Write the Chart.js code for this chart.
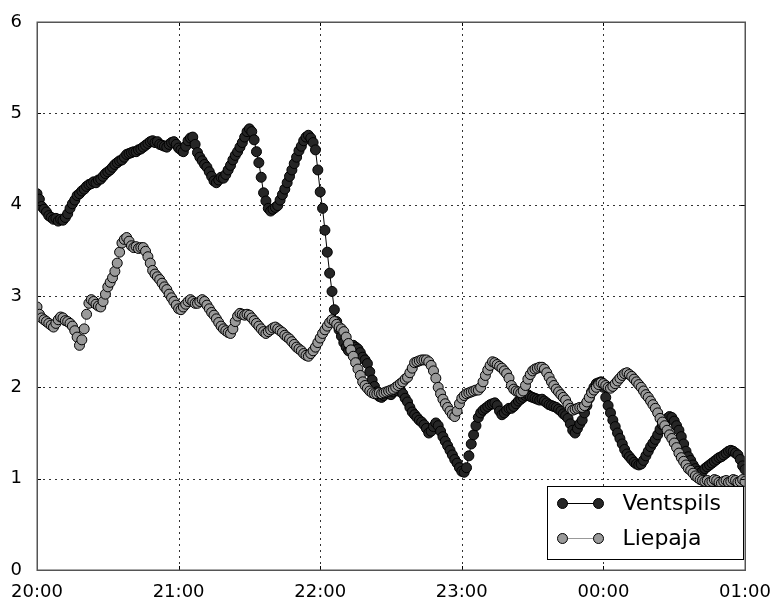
<!DOCTYPE html>
<html>
<head>
<meta charset="utf-8">
<script src="https://cdn.jsdelivr.net/npm/chart.js@4/dist/chart.umd.min.js"></script>
<style>
  html, body { margin: 0; padding: 0; background: #fff; }
  #wrap { width: 777px; height: 597px; }
</style>
</head>
<body>
<div id="wrap"><canvas id="c" width="777" height="597"></canvas></div>
<script>
// Wave height readings, one per minute from 20:00 to 01:00
const seriesNames = ['Ventspils', 'Liepaja'];
const tickLabels = ['20:00', '21:00', '22:00', '23:00', '00:00', '01:00'];

const ventspils = [
  4.12,4.06,3.98,3.95,3.92,3.88,3.86,3.84,3.85,3.82,3.84,
  3.83,3.86,3.90,3.96,4.01,4.05,4.10,4.12,4.15,4.17,
  4.20,4.22,4.23,4.25,4.24,4.27,4.28,4.31,4.34,4.36,
  4.38,4.41,4.44,4.46,4.48,4.49,4.52,4.55,4.56,4.57,
  4.58,4.58,4.60,4.61,4.63,4.65,4.67,4.69,4.70,4.68,
  4.69,4.66,4.65,4.64,4.63,4.66,4.68,4.69,4.66,4.62,
  4.60,4.58,4.64,4.70,4.73,4.74,4.66,4.57,4.52,4.48,
  4.44,4.41,4.36,4.31,4.26,4.24,4.27,4.30,4.29,4.33,
  4.38,4.43,4.49,4.54,4.58,4.63,4.68,4.74,4.80,4.83,
  4.80,4.71,4.58,4.46,4.30,4.13,4.04,3.96,3.93,3.95,
  3.97,3.99,4.05,4.11,4.17,4.24,4.31,4.38,4.45,4.52,
  4.59,4.64,4.70,4.74,4.76,4.73,4.68,4.60,4.38,4.14,
  3.96,3.72,3.48,3.25,3.05,2.85,2.72,2.63,2.56,2.49,
  2.44,2.40,2.43,2.46,2.44,2.42,2.38,2.33,2.30,2.26,
  2.17,2.08,2.01,1.95,1.90,1.89,1.91,1.94,1.93,1.92,
  1.95,1.97,1.96,1.97,1.93,1.88,1.84,1.78,1.73,1.70,
  1.67,1.64,1.62,1.59,1.55,1.50,1.52,1.57,1.61,1.58,
  1.52,1.46,1.41,1.36,1.31,1.26,1.21,1.17,1.12,1.08,
  1.07,1.12,1.25,1.38,1.48,1.58,1.67,1.72,1.75,1.77,
  1.79,1.81,1.82,1.83,1.80,1.74,1.70,1.72,1.75,1.77,
  1.77,1.79,1.82,1.85,1.87,1.89,1.91,1.92,1.90,1.89,
  1.88,1.87,1.86,1.87,1.85,1.83,1.81,1.80,1.79,1.78,
  1.76,1.74,1.71,1.69,1.66,1.60,1.53,1.50,1.55,1.60,
  1.64,1.72,1.80,1.88,1.95,2.00,2.04,2.05,2.06,2.00,
  1.89,1.80,1.72,1.64,1.57,1.50,1.44,1.38,1.32,1.27,
  1.24,1.21,1.18,1.16,1.15,1.16,1.20,1.25,1.30,1.35,
  1.39,1.43,1.48,1.54,1.59,1.63,1.66,1.68,1.67,1.63,
  1.58,1.53,1.46,1.38,1.30,1.24,1.20,1.15,1.11,1.08,
  1.06,1.08,1.11,1.13,1.15,1.17,1.19,1.21,1.23,1.24,
  1.26,1.28,1.30,1.31,1.30,1.28,1.26,1.21,1.14,1.10
];

const liepaja = [
  2.88,2.80,2.76,2.74,2.72,2.70,2.68,2.66,2.70,2.74,2.77,
  2.76,2.73,2.72,2.70,2.67,2.62,2.55,2.46,2.52,2.64,
  2.80,2.92,2.96,2.94,2.91,2.89,2.88,2.94,3.02,3.10,
  3.15,3.20,3.27,3.36,3.48,3.58,3.62,3.64,3.60,3.55,
  3.53,3.54,3.52,3.53,3.53,3.49,3.43,3.36,3.28,3.24,
  3.21,3.18,3.14,3.10,3.07,3.02,2.98,2.94,2.90,2.86,
  2.85,2.88,2.91,2.94,2.96,2.94,2.92,2.92,2.94,2.96,
  2.94,2.90,2.86,2.82,2.79,2.75,2.71,2.67,2.64,2.62,
  2.60,2.59,2.64,2.72,2.78,2.81,2.80,2.79,2.80,2.79,
  2.76,2.73,2.70,2.67,2.64,2.61,2.59,2.61,2.63,2.65,
  2.66,2.64,2.62,2.60,2.57,2.55,2.53,2.50,2.47,2.44,
  2.42,2.40,2.37,2.35,2.34,2.37,2.40,2.44,2.49,2.54,
  2.59,2.63,2.67,2.71,2.74,2.72,2.69,2.66,2.64,2.61,
  2.55,2.48,2.41,2.34,2.27,2.20,2.13,2.06,2.02,1.99,
  1.96,1.94,1.93,1.93,1.94,1.93,1.94,1.95,1.96,1.97,
  1.98,2.00,2.02,2.04,2.06,2.09,2.11,2.16,2.21,2.27,
  2.28,2.29,2.30,2.30,2.30,2.28,2.24,2.18,2.10,2.00,
  1.93,1.87,1.82,1.78,1.74,1.70,1.68,1.74,1.82,1.88,
  1.91,1.93,1.94,1.95,1.96,1.97,1.97,2.00,2.06,2.13,
  2.19,2.24,2.28,2.27,2.25,2.23,2.21,2.18,2.15,2.10,
  2.02,1.98,1.96,1.95,1.94,1.96,2.02,2.09,2.14,2.18,
  2.20,2.21,2.22,2.22,2.20,2.16,2.11,2.06,2.02,1.98,
  1.95,1.92,1.89,1.86,1.81,1.77,1.75,1.76,1.77,1.78,
  1.78,1.80,1.84,1.89,1.94,1.97,2.00,2.03,2.05,2.04,
  2.02,2.00,1.99,2.01,2.04,2.07,2.10,2.13,2.15,2.16,
  2.14,2.12,2.09,2.06,2.03,2.00,1.96,1.92,1.89,1.85,
  1.81,1.77,1.72,1.66,1.62,1.58,1.53,1.48,1.44,1.39,
  1.34,1.28,1.23,1.19,1.15,1.11,1.09,1.06,1.03,1.01,
  0.99,0.98,0.97,0.98,0.96,0.97,0.99,0.98,0.96,0.95,
  0.97,0.98,0.96,0.97,0.99,0.98,0.96,0.97,0.99,0.97
];

const FONT = '"DejaVu Sans", sans-serif';

// minute index -> point
const toPoints = arr => arr.map((v, i) => ({ x: i, y: v }));

// dotted grid under the data
const gridPlugin = {
  id: 'dottedGrid',
  beforeDatasetsDraw(chart) {
    const { ctx, chartArea: a, scales: { x, y } } = chart;
    ctx.save();
    ctx.strokeStyle = 'rgba(0,0,0,0.8)';
    ctx.lineWidth = 1;
    ctx.setLineDash([2, 4]);
    x.ticks.forEach(t => {
      const px = Math.round(x.getPixelForValue(t.value)) + 0.5;
      ctx.beginPath(); ctx.moveTo(px, a.top); ctx.lineTo(px, a.bottom); ctx.stroke();
    });
    y.ticks.forEach(t => {
      const py = Math.round(y.getPixelForValue(t.value)) + 0.5;
      ctx.beginPath(); ctx.moveTo(a.left, py); ctx.lineTo(a.right, py); ctx.stroke();
    });
    ctx.restore();
  }
};

// axes frame with inward ticks on all four sides
const framePlugin = {
  id: 'frame',
  afterDatasetsDraw(chart) {
    const { ctx, chartArea: a, scales: { x, y } } = chart;
    ctx.save();
    ctx.strokeStyle = '#000';
    ctx.lineWidth = 1;
    const L = 4;
    x.ticks.forEach(t => {
      const px = Math.round(x.getPixelForValue(t.value)) + 0.5;
      ctx.beginPath();
      ctx.moveTo(px, a.bottom); ctx.lineTo(px, a.bottom - L);
      ctx.moveTo(px, a.top); ctx.lineTo(px, a.top + L);
      ctx.stroke();
    });
    y.ticks.forEach(t => {
      const py = Math.round(y.getPixelForValue(t.value)) + 0.5;
      ctx.beginPath();
      ctx.moveTo(a.left, py); ctx.lineTo(a.left + L, py);
      ctx.moveTo(a.right, py); ctx.lineTo(a.right - L, py);
      ctx.stroke();
    });
    ctx.strokeStyle = '#555';
    ctx.lineWidth = 1.5;
    ctx.strokeRect(Math.round(a.left) + 0.25, Math.round(a.top) + 0.25,
                   Math.round(a.right - a.left), Math.round(a.bottom - a.top));
    ctx.restore();
  }
};

// boxed legend in the lower-right corner of the plot
const legendPlugin = {
  id: 'boxLegend',
  afterDraw(chart) {
    const { ctx, chartArea: a } = chart;
    const w = 196, h = 73;
    const bx = Math.round(a.right - 2 - w) + 0.5;
    const by = Math.round(a.bottom - 11 - h) + 0.5;
    ctx.save();
    ctx.fillStyle = '#fff';
    ctx.fillRect(bx, by, w, h);
    ctx.strokeStyle = '#000';
    ctx.lineWidth = 1;
    ctx.strokeRect(bx, by, w, h);
    chart.data.datasets.forEach((ds, i) => {
      const cy = by + 17 + i * 35;
      const x1 = bx + 15, x2 = bx + 51;
      ctx.strokeStyle = ds.borderColor;
      ctx.lineWidth = ds.borderWidth;
      ctx.beginPath(); ctx.moveTo(x1, cy); ctx.lineTo(x2, cy); ctx.stroke();
      [x1, x2].forEach(mx => {
        ctx.beginPath();
        ctx.arc(mx, cy, ds.pointRadius, 0, Math.PI * 2);
        ctx.fillStyle = ds.pointBackgroundColor;
        ctx.fill();
        ctx.strokeStyle = ds.pointBorderColor;
        ctx.lineWidth = ds.pointBorderWidth;
        ctx.stroke();
      });
      ctx.fillStyle = '#000';
      ctx.font = '22px ' + FONT;
      ctx.textBaseline = 'middle';
      ctx.textAlign = 'left';
      ctx.fillText(ds.label, bx + 75, cy + 1);
    });
    ctx.restore();
  }
};

new Chart(document.getElementById('c'), {
  type: 'line',
  data: {
    datasets: [
      {
        label: seriesNames[0],
        data: toPoints(ventspils),
        borderColor: '#000',
        borderWidth: 1,
        pointRadius: 5,
        pointBackgroundColor: '#262626',
        pointBorderColor: '#000',
        pointBorderWidth: 1,
        tension: 0,
        order: 1
      },
      {
        label: seriesNames[1],
        data: toPoints(liepaja),
        borderColor: '#999',
        borderWidth: 1,
        pointRadius: 5,
        pointBackgroundColor: '#9a9a9a',
        pointBorderColor: '#000',
        pointBorderWidth: 1,
        tension: 0,
        order: 0
      }
    ]
  },
  options: {
    responsive: false,
    animation: false,
    devicePixelRatio: 1,
    layout: { padding: { top: 22, right: 32, left: 0, bottom: 0 } },
    plugins: { legend: { display: false }, tooltip: { enabled: false } },
    scales: {
      x: {
        type: 'linear',
        min: 0,
        max: 300,
        grid: { display: false },
        border: { display: false },
        ticks: {
          stepSize: 60,
          autoSkip: false,
          maxRotation: 0,
          padding: 4,
          color: '#000',
          font: { family: FONT, size: 18 },
          callback: (v) => tickLabels[Math.round(v / 60)]
        },
        afterFit: s => { s.height = 27; }
      },
      y: {
        min: 0,
        max: 6,
        grid: { display: false },
        border: { display: false },
        ticks: {
          stepSize: 1,
          padding: 7,
          color: '#000',
          font: { family: FONT, size: 18 }
        },
        afterFit: s => { s.width = 37; }
      }
    }
  },
  plugins: [gridPlugin, framePlugin, legendPlugin]
});
</script>
</body>
</html>
